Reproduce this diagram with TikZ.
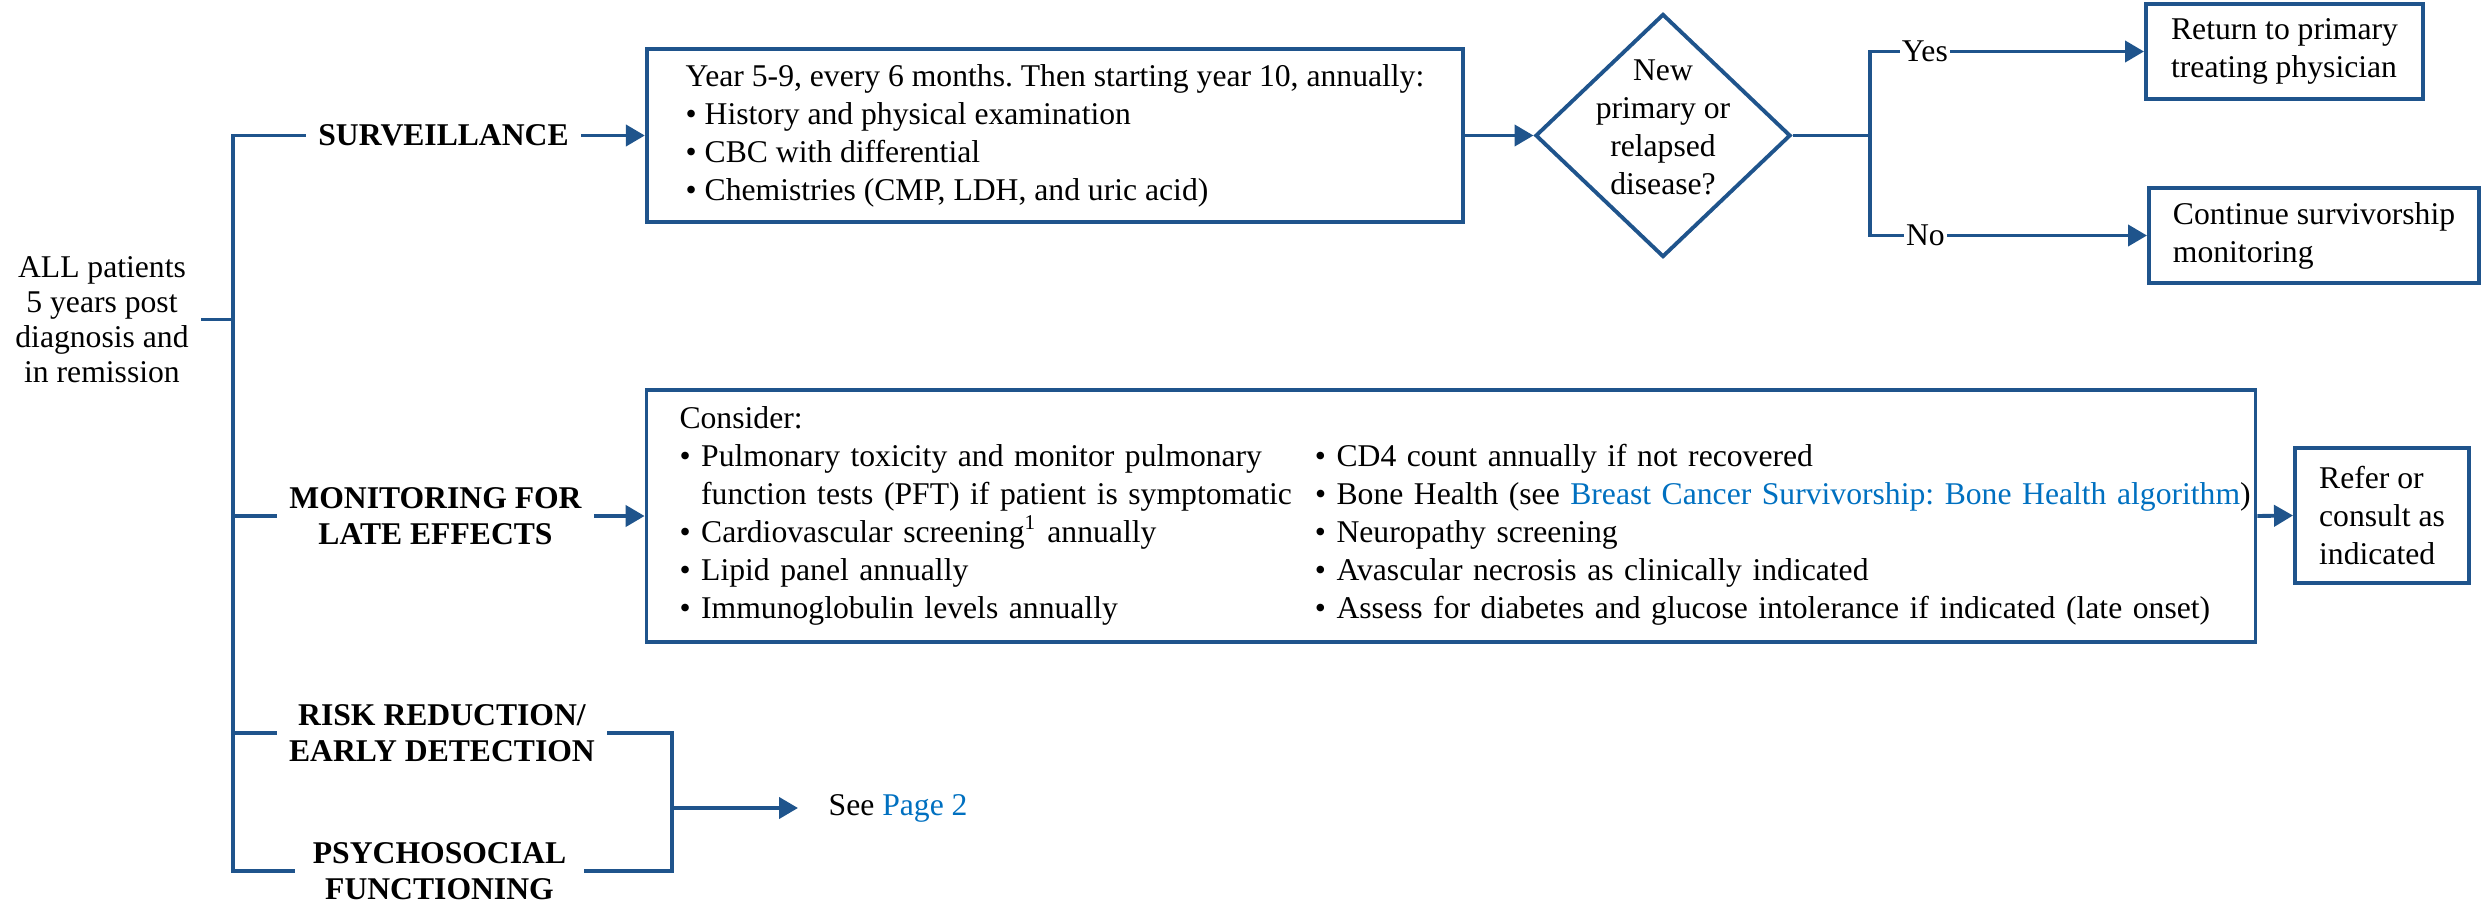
\documentclass[tikz,border=0pt]{standalone}
\usepackage{fontspec}
\setmainfont{Liberation Serif}
\usepackage{tikz}
\usetikzlibrary{arrows.meta,positioning,shapes.geometric,calc}
\definecolor{allLineBlue}{RGB}{31,84,140}
\definecolor{allLinkBlue}{RGB}{0,112,192}
\frenchspacing

\begin{document}
\begin{tikzpicture}[
  x=0.01cm,
  y=-0.01cm,
  every node/.style={font=\fontsize{9}{10.8}\selectfont},
  box/.style={
    draw=allLineBlue,
    line width=1.1pt,
    align=left,
    inner sep=0pt
  },
  heading/.style={
    align=center,
    font=\fontsize{9}{10.2}\selectfont\bfseries
  },
  decision/.style={
    draw=allLineBlue,
    line width=1.1pt,
    diamond,
    inner sep=0pt,
    minimum width=2.55cm,
    minimum height=2.43cm
  },
  answer/.style={fill=white,text=black,inner sep=0.5pt},
  branch/.style={line width=1.1pt,allLineBlue},
  arrow/.style={branch,-{Triangle[length=5.4pt,width=6pt]}}
]
  \useasboundingbox (0,0) rectangle (2484,903);
  \node[align=center,font=\fontsize{9}{10}\selectfont] (patients) at (102,319.5) {ALL patients\\5 years post\\diagnosis and\\in remission};
  \node[heading] (surv) at (443.5,135.5) {SURVEILLANCE};
  \node[heading] (monitor) at (435.5,516) {MONITORING FOR\\LATE EFFECTS};
  \node[heading] (risk) at (442,733) {RISK REDUCTION/\\EARLY DETECTION};
  \node[heading,inner xsep=5pt] (psycho) at (439.5,871) {PSYCHOSOCIAL\\FUNCTIONING};
  \node[box,minimum width=8.16cm,minimum height=1.73cm] (schedule) at (1055,135.5) {Year 5-9, every 6 months. Then starting year 10, annually:\\\textbullet\ History and physical examination\\\textbullet\ CBC with differential\\\textbullet\ Chemistries (CMP, LDH, and uric acid)};
  \node[decision] (relapse) at (1663,135.5) {};
  \node[align=center,yshift=0.08cm] (relapsetext) at (relapse.center) {New\\primary or\\relapsed\\disease?};
  \node[box,minimum width=2.77cm,minimum height=0.95cm] (return) at (2284.5,51.5) {Return to primary\\treating physician};
  \node[box,minimum width=3.30cm,minimum height=0.95cm] (continue) at (2314,235.5) {Continue survivorship\\monitoring};
  \node[box,text width=15.42cm,inner xsep=0.33cm,minimum height=2.52cm] (late) at (1451,516) {\noindent\begin{tabular}{@{}p{6.35cm}@{}l@{}}
    \multicolumn{2}{@{}l@{}}{Consider:}\\
    \textbullet\ Pulmonary toxicity and monitor pulmonary & \textbullet\ CD4 count annually if not recovered\\
    \hphantom{\textbullet\ }function tests (PFT) if patient is symptomatic & \textbullet\ Bone Health (see \textcolor{allLinkBlue}{Breast Cancer Survivorship: Bone Health algorithm})\\
    \textbullet\ Cardiovascular screening\textsuperscript{1} annually & \textbullet\ Neuropathy screening\\
    \textbullet\ Lipid panel annually & \textbullet\ Avascular necrosis as clinically indicated\\
    \textbullet\ Immunoglobulin levels annually & \textbullet\ Assess for diabetes and glucose intolerance if indicated (late onset)
  \end{tabular}};
  \node[box,minimum width=1.74cm,minimum height=1.35cm] (refer) at (2382,515.5) {Refer or\\consult as\\indicated};
  \node[anchor=west,inner sep=0pt] (seepage) at (828,808) {See \textcolor{allLinkBlue}{Page 2}};
  \coordinate (trunk) at (233,135.5);
  \coordinate (split) at (1870,135.5);
  \coordinate (merge) at (672,808);
  \draw[branch] (surv.west) -- (trunk) |- (psycho.west);
  \draw[branch] (patients.east) -- (patients.east -| trunk);
  \draw[branch] (monitor.west -| trunk) -- (monitor.west);
  \draw[branch] (risk.west -| trunk) -- (risk.west);
  \draw[branch] (risk.east) -| (merge) |- (psycho.east);
  \draw[arrow] (merge) -- ([xshift=-0.3cm]seepage.west);
  \draw[arrow] (surv.east) -- (schedule.west);
  \draw[arrow] (schedule.east) -- (relapse.west);
  \draw[branch] (relapse.east) -- (split);
  \draw[arrow] (split) |- node[answer,pos=0.6] {Yes} (return.west);
  \draw[arrow] (split) |- node[answer,pos=0.6] {No} (continue.west);
  \draw[arrow] (monitor.east) -- (late.west);
  \draw[arrow] (late.east) -- (refer.west);
\end{tikzpicture}
\end{document}
